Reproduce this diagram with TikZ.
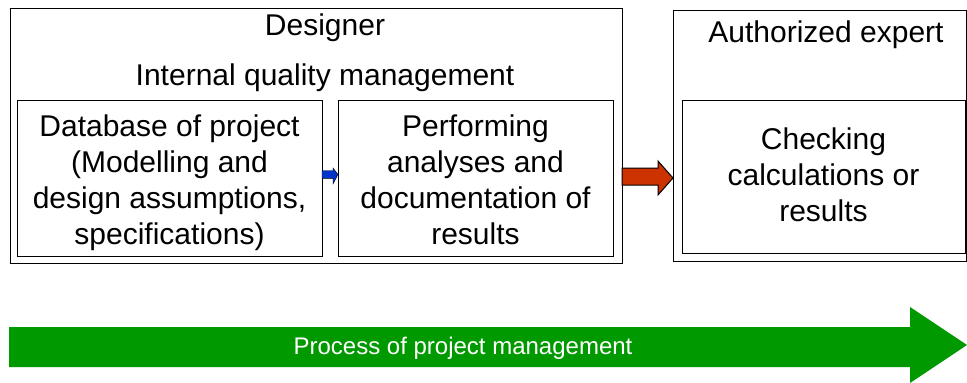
\documentclass[tikz,border=0pt]{standalone}
\usepackage{fontspec}
\setmainfont{Liberation Sans}
\definecolor{arrblue}{RGB}{0,51,204}
\definecolor{arrred}{RGB}{204,51,0}
\definecolor{arrgreen}{RGB}{0,153,0}
\begin{document}
\begin{tikzpicture}[x=1pt,y=-1pt,
  box/.style={draw=black,line width=1pt,inner sep=0pt,outer sep=0pt},
  txt/.style={font=\fontsize{30}{36}\selectfont,align=center,inner sep=0pt},
  lbl/.style={font=\fontsize{30}{36}\selectfont,inner sep=0pt}]
\useasboundingbox (0,0) rectangle (967,383);
% boxes
\node[box,minimum width=612pt,minimum height=255pt] (des) at (316,135.5) {};
\node[box,minimum width=305pt,minimum height=156pt] (db) at (169.5,178) {};
\node[box,minimum width=275pt,minimum height=156pt] (pa) at (475.5,178) {};
\node[box,minimum width=293pt,minimum height=251pt] (ae) at (819.5,135.5) {};
\node[box,minimum width=283pt,minimum height=153pt] (cc) at (823.5,176.5) {};
% texts
\node[lbl] (t1) at (325,28) {Designer};
\node[lbl] (t2) at (325,78) {Internal quality management};
\node[lbl] (t3) at (826,35) {Authorized expert};
\node[txt] (dbt) at ([yshift=-5pt]db.center) {Database of project\\(Modelling and\\design assumptions,\\specifications)};
\node[txt] (pat) at ([yshift=-2pt]pa.center) {Performing\\analyses and\\documentation of\\results};
\node[txt] (cct) at ([yshift=2pt]cc.center) {Checking\\calculations or\\results};
% blue arrow
\draw[fill=arrblue,line width=0.4pt] (db.east |- 0,170.7) -- (333,170.7) -- (333,168) -- (pa.west |- 0,174.5) -- (333,184) -- (333,178.3) -- (db.east |- 0,178.3) -- cycle;
% red arrow
\draw[fill=arrred,line width=1pt,line join=miter] (des.east |- 0,168) -- (658,168) -- (658,161) -- (ae.west |- 0,178) -- (658,195) -- (658,185) -- (des.east |- 0,185) -- cycle;
% green arrow
\coordinate (gs) at (9,347);
\coordinate (gt) at (967,345);
\fill[arrgreen] (9,327) -- (910,327) -- (910,307) -- (gt) -- (910,383) -- (910,367) -- (9,367) -- cycle;
\node[font=\fontsize{24}{28}\selectfont,text=white,inner sep=0pt] (pm) at (463,348) {Process of project management};
\end{tikzpicture}
\end{document}
